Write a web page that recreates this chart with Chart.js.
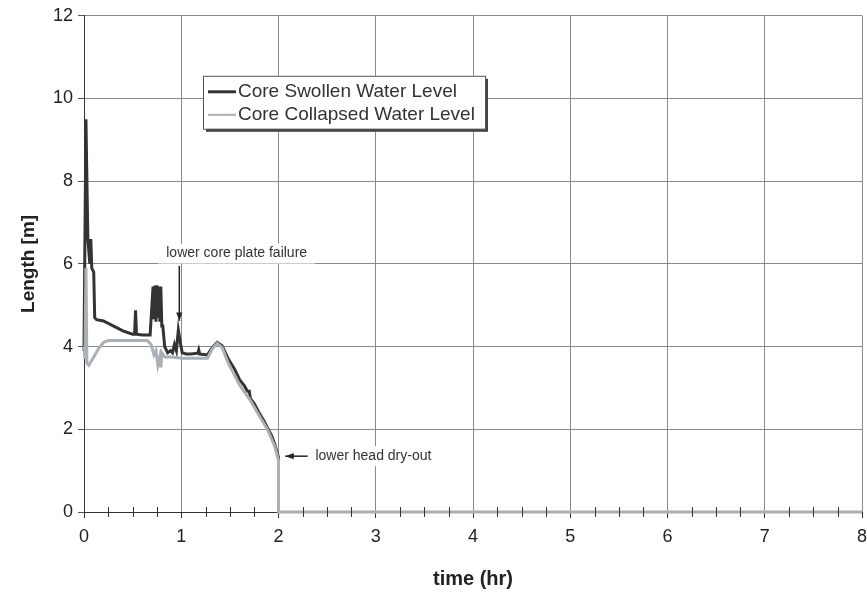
<!DOCTYPE html>
<html lang="en">
<head>
<meta charset="utf-8" />
<title>Core water level</title>
<script src="https://cdn.jsdelivr.net/npm/chart.js"></script>
<style>
    html, body { margin: 0; padding: 0; background: #fff; }
    #wrap { width: 867px; height: 595px; position: relative; }
</style>
</head>
<body>
<div id="wrap"><canvas id="levelChart" width="867" height="595"></canvas></div>
<script>
// time (hr) and level (m)
var swollenT = [0, 0.02, 0.03, 0.04, 0.06, 0.07, 0.08, 0.10, 0.11, 0.13, 0.20, 0.30, 0.40, 0.50, 0.52, 0.53, 0.54, 0.60, 0.68,
    0.71, 0.72, 0.73, 0.74, 0.75, 0.76, 0.77, 0.78, 0.79, 0.80, 0.81, 0.83, 0.86, 0.89, 0.91, 0.93, 0.95, 0.97, 0.99, 1.01,
    1.05, 1.10, 1.17, 1.18, 1.19, 1.27, 1.32, 1.37, 1.42, 1.48, 1.55, 1.60, 1.65, 1.68, 1.70, 1.71, 1.75, 1.80, 1.85, 1.89,
    1.93, 1.96, 2.00, 2.00];
var swollenL = [3.9, 9.5, 8.0, 6.6, 6.0, 6.6, 5.9, 5.8, 4.7, 4.65, 4.62, 4.5, 4.38, 4.3, 4.3, 4.88, 4.3, 4.28, 4.28,
    5.45, 4.7, 5.48, 4.6, 5.48, 4.7, 5.45, 4.6, 5.45, 4.5, 4.5, 4.0, 3.85, 3.9, 3.85, 4.05, 3.9, 4.4, 4.1, 3.85,
    3.82, 3.82, 3.84, 3.92, 3.82, 3.8, 3.98, 4.1, 4.02, 3.72, 3.45, 3.2, 3.05, 2.92, 2.92, 2.75, 2.62, 2.4, 2.2, 2.02,
    1.84, 1.65, 1.32, 0];

var collapsedT = [0, 0.01, 0.02, 0.03, 0.05, 0.10, 0.15, 0.20, 0.25, 0.50, 0.65, 0.69, 0.72, 0.74, 0.76, 0.78, 0.79, 0.80,
    0.83, 0.90, 1.00, 1.27, 1.32, 1.37, 1.42, 1.48, 1.60, 1.71, 1.81, 1.89, 1.96, 2.00, 2.00, 8.00];
var collapsedL = [4.0, 3.7, 5.9, 3.6, 3.55, 3.75, 3.95, 4.1, 4.15, 4.15, 4.15, 4.05, 3.8, 3.9, 3.55, 3.75, 3.5, 3.85,
    3.75, 3.75, 3.72, 3.72, 3.95, 4.08, 3.98, 3.62, 3.07, 2.7, 2.3, 1.98, 1.6, 1.25, 0, 0];

var seriesNames = ['Core Swollen Water Level', 'Core Collapsed Water Level'];
var xTickLabels = ['0', '1', '2', '3', '4', '5', '6', '7', '8'];
var yTickLabels = ['0', '2', '4', '6', '8', '10', '12'];

function toPoints(t, v) {
    var out = [];
    for (var i = 0; i < t.length; i++) out.push({ x: t[i], y: v[i] });
    return out;
}

var FONT = '"Liberation Sans", Arial, sans-serif';

// small crossing ticks on the time axis, every quarter hour
var minorTicks = {
    id: 'minorTicks',
    afterDraw: function (chart) {
        var ctx = chart.ctx, xs = chart.scales.x, y0 = chart.scales.y.getPixelForValue(0);
        ctx.save();
        ctx.strokeStyle = '#333';
        ctx.lineWidth = 1;
        for (var v = 0.25; v < 8; v += 0.25) {
            if (Math.abs(v - Math.round(v)) < 0.01) continue;
            var px = Math.round(xs.getPixelForValue(v)) + 0.5;
            ctx.beginPath();
            ctx.moveTo(px, y0 - 5);
            ctx.lineTo(px, y0 + 5);
            ctx.stroke();
        }
        ctx.restore();
    }
};

function arrow(ctx, x1, y1, x2, y2) {
    var a = Math.atan2(y2 - y1, x2 - x1), s = 9;
    ctx.beginPath();
    ctx.moveTo(x1, y1);
    ctx.lineTo(x2, y2);
    ctx.stroke();
    ctx.beginPath();
    ctx.moveTo(x2, y2);
    ctx.lineTo(x2 - s * Math.cos(a - 0.35), y2 - s * Math.sin(a - 0.35));
    ctx.lineTo(x2 - s * Math.cos(a + 0.35), y2 - s * Math.sin(a + 0.35));
    ctx.closePath();
    ctx.fill();
}

var notes = {
    id: 'notes',
    afterDatasetsDraw: function (chart) {
        var ctx = chart.ctx, xs = chart.scales.x, ys = chart.scales.y;
        ctx.save();
        ctx.font = '14px ' + FONT;
        ctx.textBaseline = 'middle';

        // lower core plate failure
        var t1 = 'lower core plate failure';
        var cx = xs.getPixelForValue(1.57), cy = ys.getPixelForValue(6.25);
        var w1 = ctx.measureText(t1).width;
        ctx.fillStyle = '#fff';
        ctx.fillRect(cx - w1 / 2 - 8, cy - 10, w1 + 16, 20);
        ctx.fillStyle = '#333';
        ctx.textAlign = 'center';
        ctx.fillText(t1, cx, cy);
        ctx.strokeStyle = '#222';
        ctx.fillStyle = '#222';
        ctx.lineWidth = 1.5;
        var ax = xs.getPixelForValue(0.98);
        arrow(ctx, ax, ys.getPixelForValue(5.95), ax, ys.getPixelForValue(4.62));

        // lower head dry-out
        var t2 = 'lower head dry-out';
        var lx = xs.getPixelForValue(2.38), ly = ys.getPixelForValue(1.35);
        var w2 = ctx.measureText(t2).width;
        ctx.fillStyle = '#fff';
        ctx.fillRect(lx - 4, ly - 10, w2 + 8, 20);
        ctx.fillStyle = '#333';
        ctx.textAlign = 'left';
        ctx.fillText(t2, lx, ly);
        ctx.fillStyle = '#222';
        arrow(ctx, xs.getPixelForValue(2.3), ly, xs.getPixelForValue(2.07), ly);
        ctx.restore();
    }
};

// boxed legend floating inside the plot
var boxLegend = {
    id: 'boxLegend',
    afterDraw: function (chart) {
        var ctx = chart.ctx, area = chart.chartArea;
        var bx = area.left + 119, by = area.top + 60, bw = 282, bh = 53;
        ctx.save();
        ctx.fillStyle = '#444';
        ctx.fillRect(bx + 3, by + 3, bw, bh);
        ctx.fillStyle = '#fff';
        ctx.fillRect(bx, by, bw, bh);
        ctx.strokeStyle = '#555';
        ctx.lineWidth = 1;
        ctx.strokeRect(bx + 0.5, by + 0.5, bw, bh);
        ctx.font = '19px ' + FONT;
        ctx.textBaseline = 'middle';
        ctx.textAlign = 'left';
        chart.data.datasets.forEach(function (ds, i) {
            var ry = by + 16 + i * 23;
            ctx.strokeStyle = ds.borderColor;
            ctx.lineWidth = i === 0 ? 3 : 2;
            ctx.beginPath();
            ctx.moveTo(bx + 5, ry);
            ctx.lineTo(bx + 33, ry);
            ctx.stroke();
            ctx.fillStyle = '#333';
            ctx.fillText(ds.label, bx + 35, ry);
        });
        ctx.restore();
    }
};

var ctx = document.getElementById('levelChart').getContext('2d');
var levelChart = new Chart(ctx, {
    type: 'line',
    data: {
        datasets: [{
            label: seriesNames[0],
            data: toPoints(swollenT, swollenL),
            borderColor: '#333333',
            borderWidth: 3,
            pointRadius: 0,
            tension: 0,
            order: 2,
            clip: 4
        }, {
            label: seriesNames[1],
            data: toPoints(collapsedT, collapsedL),
            borderColor: '#a9b0b6',
            borderWidth: 3,
            pointRadius: 0,
            tension: 0,
            order: 1,
            clip: 4
        }]
    },
    options: {
        responsive: false,
        animation: false,
        layout: { padding: { top: 15, right: 5, left: 0, bottom: 0 } },
        plugins: { legend: { display: false }, tooltip: { enabled: false } },
        scales: {
            x: {
                type: 'linear',
                min: 0,
                max: 8,
                afterFit: function (s) { s.height = 83; s.paddingRight = 0; s.paddingLeft = 0; },
                afterBuildTicks: function (s) {
                    s.ticks = xTickLabels.map(function (l) { return { value: Number(l) }; });
                },
                ticks: {
                    autoSkip: false,
                    maxRotation: 0,
                    padding: 8,
                    color: '#222',
                    font: { family: FONT, size: 18 },
                    callback: function (v, i) { return xTickLabels[i]; }
                },
                grid: { color: '#8a8a8a', tickColor: '#333', tickLength: 6 },
                border: { color: '#333' },
                title: {
                    display: true,
                    text: 'time (hr)',
                    color: '#222',
                    font: { family: FONT, size: 20, weight: 'bold' },
                    padding: { top: 14 }
                }
            },
            y: {
                min: 0,
                max: 12,
                afterFit: function (s) { s.width = 84; },
                afterBuildTicks: function (s) {
                    s.ticks = yTickLabels.map(function (l) { return { value: Number(l) }; });
                },
                ticks: {
                    padding: 5,
                    color: '#222',
                    font: { family: FONT, size: 18 },
                    callback: function (v, i) { return yTickLabels[i]; }
                },
                grid: { color: '#8a8a8a', tickColor: '#555', tickLength: 6 },
                border: { color: '#333' },
                title: {
                    display: true,
                    text: 'Length [m]',
                    color: '#222',
                    font: { family: FONT, size: 19, weight: 'bold' },
                    padding: { top: 17, bottom: 0 }
                }
            }
        }
    },
    plugins: [minorTicks, notes, boxLegend]
});
</script>
</body>
</html>
